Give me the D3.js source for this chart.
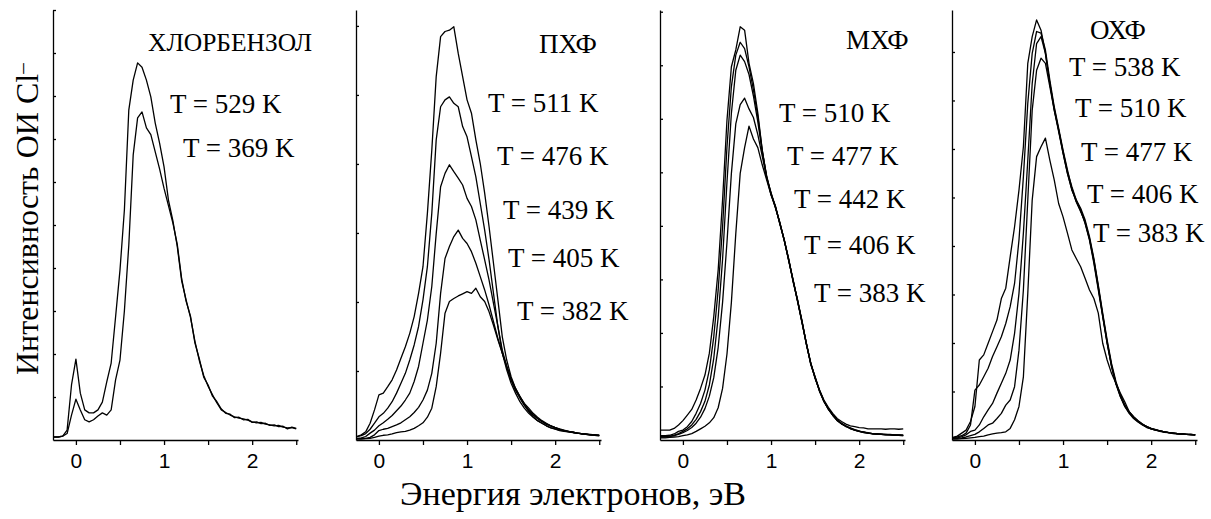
<!DOCTYPE html>
<html>
<head>
<meta charset="utf-8">
<script src="https://cdn.jsdelivr.net/npm/d3@7"></script>
<style>
body { margin: 0; background: #fff; }
</style>
</head>
<body>
<svg id="chart" width="1211" height="519"></svg>
<script>
// energy grid (eV) shared by every spectrum
const energyEv = [-0.25,-0.2,-0.15,-0.1,-0.05,0,0.05,0.1,0.15,0.2,0.25,0.3,0.35,0.4,0.45,0.5,0.55,0.6,0.65,0.7,0.75,0.8,0.85,0.9,0.95,1,1.05,1.1,1.15,1.2,1.25,1.3,1.35,1.4,1.45,1.5,1.55,1.6,1.65,1.7,1.75,1.8,1.85,1.9,1.95,2,2.05,2.1,2.15,2.2,2.25,2.3,2.35,2.4,2.45,2.5];

// intensities, arb. units (100 = top of the frame)
const chloro529 = [0.7,0.7,0.9,2.3,12.8, 18.8,10.9,7.0,6.3,6.3, 7.0,8.8,13.5,17.9,28.6, 39.5,53.5,76.7,83.7,87.7, 86.7,83.7,79.8,73.7,69.0, 63.5,55.8,51.0,45.0,37.0, 32.6,28.5,23.0,18.5,15.0, 12.5,10.5,8.6,7.0,6.4, 5.8,5.4,5.1,4.9,4.6, 4.2,4.0,4.1,3.7,3.5, 3.3,3.4,3.0,2.8,2.9, 2.6];
const chloro369 = [0.7,0.7,0.9,1.5,5.8, 9.5,7.0,4.7,4.2,4.7, 5.6,6.3,5.8,7.0,14.0, 18.6,30.0,45.3,66.3,74.9, 76.3,72.6,71.0,67.0,63.0, 58.5,54.5,50.5,45.5,37.5, 32.3,28.8,22.6,18.9,14.6, 12.8,10.2,8.9,7.2,6.2, 6.0,5.2,5.3,4.7,4.8, 4.1,4.2,3.8,3.9,3.4, 3.5,3.1,3.2,2.6,3.0, 2.7];

const pcp511 = [0.8,1.2,1.9,3.9,7.0, 10.5,10.9,12.4,14.0,16.3, 19.0,21.7,24.8,28.7,34.1, 40.3,52.7,67.4,84.5,93.8, 95.0,95.3,96.1,89.9,84.5, 79.1,76.0,69.8,64.3,57.4, 49.6,41.1,32.6,24.0,18.6, 14.7,12.0,10.1,8.1,6.6, 5.4,4.5,3.9,3.3,2.8, 2.5,2.2,2.0,1.9,1.7, 1.6,1.5,1.4,1.2,1.2, 1.1];
const pcp476 = [0.8,1.0,1.5,2.5,3.9, 5.4,6.2,7.4,8.9,10.9, 13.2,15.5,18.6,22.1,26.4, 32.6,40.3,52.7,69.8,77.5, 79.1,79.8,78.3,77.5,72.9, 70.5,65.9,61.2,55.0,48.8, 41.9,34.1,26.4,20.2,16.3, 13.2,10.9,8.9,7.4,6.2, 5.3,4.5,3.9,3.3,2.9, 2.6,2.3,2.1,1.9,1.8, 1.6,1.5,1.4,1.3,1.2, 1.1];
const pcp439 = [0.4,0.5,0.8,1.6,2.3, 3.3,4.0,4.8,5.7,6.8, 7.9,9.3,10.9,13.6,17.1, 22.5,27.9,35.7,48.0,58.9, 62.0,64.0,62.4,60.9,59.3, 56.2,54.3,51.2,46.5,41.9, 37.2,31.8,26.4,20.9,17.1, 14.0,11.6,9.7,8.1,6.8, 5.8,5.0,4.3,3.7,3.3, 2.9,2.5,2.2,2.0,1.8, 1.6,1.5,1.3,1.2,1.1, 1.0];
const pcp405 = [0.3,0.3,0.4,0.6,1.2, 2.2,2.5,2.7,3.1,3.5, 4.0,4.7,5.4,6.4,7.6, 9.3,11.6,15.5,22.5,34.1, 42.2,45.0,47.3,48.8,46.9, 45.7,43.8,41.1,38.0,34.9, 31.4,27.5,23.6,20.2,17.1, 14.3,12.0,10.1,8.4,7.0, 5.9,5.0,4.3,3.7,3.3, 2.9,2.5,2.2,2.0,1.8, 1.6,1.4,1.3,1.2,1.1, 1.0];
const pcp382 = [0.2,0.2,0.3,0.4,0.6, 0.9,1.1,1.2,1.4,1.7, 1.9,2.0,2.3,2.7,3.3, 4.0,5.3,7.4,12.4,20.2, 29.5,32.2,32.9,33.5,34.0, 34.5,34.1,35.3,33.3,32.2, 29.8,26.7,23.3,20.2,17.1, 14.0,11.6,10.1,8.5,7.4, 6.2,5.3,4.5,3.9,3.3, 2.9,2.6,2.3,2.0,1.8, 1.6,1.4,1.3,1.2,1.1, 1.0];

const mcp510 = [2.3,2.3,2.3,2.7,3.5, 4.5,5.8,7.1,9.3,12.0, 15.1,20.2,28.7,39.5,55.8, 74.4,86.8,90.7,96.1,95.3, 87.6,82.9,76.0,67.4,61.2, 57.4,54.3,50.4,46.5,41.9, 37.2,32.6,27.9,22.5,17.8, 14.7,11.6,9.3,7.6,6.2, 5.0,4.3,3.7,3.3,3.1, 2.9,2.8,2.6,2.6,2.6, 2.6,2.5,2.6,2.6,2.5, 2.6];
const mcp477 = [1.0,1.0,1.1,1.4,2.0, 2.3,3.1,4.3,6.2,8.5, 11.6,16.3,24.0,34.9,49.6, 68.2,82.2,89.5,92.5,91.0, 86.8,81.4,75.2,67.4,61.0, 57.0,54.0,50.5,46.5,42.0, 37.0,32.5,27.5,22.5,17.8, 14.5,11.4,9.0,7.2,5.8, 4.6,3.8,3.2,2.7,2.3, 2.0,1.8,1.6,1.5,1.4, 1.3,1.3,1.2,1.2,1.1, 1.1];
const mcp442 = [0.8,0.8,0.9,1.1,1.5, 2.0,2.6,3.5,4.8,6.6, 9.0,12.8,19.0,28.5,42.0, 60.0,76.0,86.0,89.5,88.0, 85.0,80.0,74.0,67.0,61.5, 57.2,54.2,50.3,46.4,41.8, 37.3,32.4,27.7,22.4,18.0, 14.4,11.5,9.1,7.3,5.9, 4.7,3.9,3.2,2.8,2.4, 2.1,1.8,1.7,1.5,1.4, 1.4,1.3,1.3,1.2,1.2, 1.1];
const mcp406 = [0.7,0.7,0.8,1.0,1.3, 1.7,2.2,2.9,3.9,5.3, 7.3,10.2,14.5,21.5,32.0, 46.0,62.0,73.5,78.0,79.5, 77.0,75.0,71.0,66.0,61.0, 57.5,54.0,50.6,46.3,42.2, 36.8,32.7,27.4,22.6,17.6, 14.6,11.3,9.0,7.1,5.8, 4.5,3.8,3.1,2.7,2.3, 2.0,1.9,1.6,1.5,1.4, 1.3,1.2,1.2,1.1,1.1, 1.0];
const mcp383 = [0.5,0.5,0.6,0.7,0.8, 1.0,1.2,1.5,2.0,2.6, 3.2,4.0,5.2,7.5,12.0, 20.0,32.0,48.0,62.0,68.0, 73.0,70.0,68.0,64.0,60.5, 57.0,54.4,50.2,46.6,41.7, 37.1,32.3,27.6,22.3,17.9, 14.3,11.6,8.9,7.3,5.7, 4.6,3.7,3.3,2.6,2.3, 2.0,1.7,1.6,1.4,1.4, 1.3,1.2,1.2,1.1,1.1, 1.0];

const ocp538 = [0.6,0.9,1.6,2.3,4.3, 7.8,18.6,19.8,22.5,25.2, 27.9,32.9,35.3,42.6,49.6, 58.1,68.2,87.6,93.8,97.7, 95.3,89.9,82.9,76.7,72.1, 66.7,62.0,58.1,55.8,53.5, 50.4,46.5,41.1,34.9,28.7, 22.5,17.1,13.2,10.5,8.1, 6.6,5.4,4.5,3.7,3.1, 2.6,2.3,2.1,1.9,1.7, 1.6,1.5,1.4,1.3,1.3, 1.2];
const ocp510 = [0.5,0.7,1.0,1.6,3.5, 11.6,12.8,14.7,16.7,19.4, 21.7,24.0,27.1,31.0,36.4, 46.5,61.2,78.3,89.9,95.0, 94.6,90.7,83.7,77.5,72.5, 67.4,62.8,58.5,55.4,53.1, 50.8,46.9,41.9,35.7,29.1, 22.9,17.4,13.2,10.1,7.8, 6.2,5.0,4.2,3.5,2.9, 2.6,2.3,2.0,1.8,1.7, 1.5,1.4,1.4,1.3,1.2, 1.2];
const ocp477 = [0.4,0.5,0.8,1.2,2.0, 2.3,3.5,5.4,7.0,8.5, 10.9,13.2,15.5,18.6,24.8, 34.1,48.1,65.1,82.9,92.2, 93.8,89.9,82.9,77.1,72.1, 67.1,62.4,58.9,55.8,53.9, 51.2,47.3,42.2,36.0,29.5, 23.3,17.8,13.6,10.5,8.1, 6.4,5.3,4.3,3.6,3.1, 2.7,2.4,2.1,1.9,1.7, 1.6,1.5,1.4,1.3,1.3, 1.2];
const ocp406 = [0.3,0.4,0.5,0.7,1.0, 1.3,1.9,2.7,3.5,3.9, 5.0,6.2,8.1,9.3,12.4, 20.9,34.9,55.8,76.7,86.0, 88.8,87.6,82.2,76.7,71.7, 66.7,62.0,58.3,55.4,53.3, 50.5,46.7,41.5,35.3,28.8, 22.6,17.2,13.0,10.1,7.9, 6.4,5.2,4.3,3.6,3.0, 2.6,2.3,2.1,1.9,1.7, 1.6,1.5,1.4,1.3,1.2, 1.2];
const ocp383 = [0.2,0.2,0.3,0.4,0.5, 0.6,0.8,0.9,1.2,1.4, 1.6,1.7,1.9,2.7,4.7, 7.8,14.7,34.1,55.8,65.9, 68.2,70.2,65.1,60.5,55.0, 51.9,48.1,44.2,42.2,40.3, 37.6,34.9,32.9,29.5,22.5, 18.6,15.5,13.2,10.9,8.9, 6.6,5.4,4.5,3.7,3.1, 2.7,2.4,2.1,1.9,1.7, 1.6,1.5,1.4,1.3,1.3, 1.2];

const panelNames = ["ХЛОРБЕНЗОЛ", "ПХФ", "МХФ", "ОХФ"];
const panelSeries = [
  [chloro529, chloro369],
  [pcp511, pcp476, pcp439, pcp405, pcp382],
  [mcp510, mcp477, mcp442, mcp406, mcp383],
  [ocp538, ocp510, ocp477, ocp406, ocp383]
];
const tempLabels = [
  ["T = 529 K", "T = 369 K"],
  ["T = 511 K", "T = 476 K", "T = 439 K", "T = 405 K", "T = 382 K"],
  ["T = 510 K", "T = 477 K", "T = 442 K", "T = 406 K", "T = 383 K"],
  ["T = 538 K", "T = 510 K", "T = 477 K", "T = 406 K", "T = 383 K"]
];
const xTicks = [0, 0.5, 1, 1.5, 2, 2.5];
const xTickLabels = ["0", "", "1", "", "2", ""];
const yTickSteps = [10, 16.05, 12.45, 11.28];

// layout
const serif = "Liberation Serif";
const sans = "Liberation Sans";
const frameTop = 10, frameBottom = 440, panelW = 245;
const panelLeft = [53, 356, 660, 952];
const namePos = [[148, 51], [539, 53], [846, 49], [1090, 39]];
const labelPos = [
  [[170, 113], [183, 157]],
  [[488, 112], [497, 165], [503, 219], [508, 267], [517, 320]],
  [[779, 122], [787, 165], [794, 208], [804, 254], [814, 302]],
  [[1069, 76], [1075, 117], [1081, 161], [1087, 203], [1093, 242]]
];

const svg = d3.select("#chart");

panelSeries.forEach(function(series, i){
    const left = panelLeft[i];
    const x = d3.scaleLinear().domain([-0.26, 2.52]).range([left, left + panelW]);
    const y = d3.scaleLinear().domain([0, 100]).range([frameBottom, frameTop]);
    const g = svg.append("g");

    const xAxis = d3.axisBottom(x)
	.tickValues(xTicks)
	.tickSize(5)
	.tickSizeOuter(0)
	.tickPadding(8)
	.tickFormat((d, k) => xTickLabels[k]);
    g.append("g")
	.attr("transform", `translate(0,${frameBottom})`)
	.call(xAxis)
	.call(a => a.selectAll("path, line").attr("stroke", "#000").attr("stroke-width", 1.3))
	.call(a => a.selectAll("text").style("font-family", sans).style("font-size", "21px").attr("fill", "#000"));

    const yAxis = d3.axisRight(y)
	.tickValues(d3.range(yTickSteps[i], 100.01, yTickSteps[i]))
	.tickSize(3)
	.tickSizeOuter(0)
	.tickFormat("");
    g.append("g")
	.attr("transform", `translate(${left},0)`)
	.call(yAxis)
	.call(a => a.selectAll("path, line").attr("stroke", "#000").attr("stroke-width", 1.3));

    const line = d3.line()
	.x((d, k) => x(energyEv[k]))
	.y(d => y(d));
    g.selectAll("path.spectrum").data(series)
	.enter()
	.append("path")
	.attr("class", "spectrum")
	.attr("d", line)
	.attr("fill", "none")
	.attr("stroke", "#000")
	.attr("stroke-width", 1.3)
	.attr("stroke-linejoin", "round");

    g.append("text")
	.attr("x", namePos[i][0])
	.attr("y", namePos[i][1])
	.style("font-family", serif)
	.style("font-size", (i == 0 ? 25.5 : 27) + "px")
	.text(panelNames[i]);

    g.selectAll("text.temp").data(tempLabels[i])
	.enter()
	.append("text")
	.attr("class", "temp")
	.attr("x", (d, k) => labelPos[i][k][0])
	.attr("y", (d, k) => labelPos[i][k][1])
	.style("font-family", serif)
	.style("font-size", "27px")
	.text(d => d);
});

// axis titles
const ylab = svg.append("text")
    .attr("transform", "translate(38,375) rotate(-90)")
    .style("font-family", serif)
    .style("font-size", "32px");
ylab.append("tspan").text("Интенсивность ОИ Cl");
ylab.append("tspan").attr("dy", "-0.42em").style("font-size", "21px").text("–");

svg.append("text")
    .attr("x", 573)
    .attr("y", 505)
    .attr("text-anchor", "middle")
    .style("font-family", serif)
    .style("font-size", "34px")
    .text("Энергия электронов, эВ");
</script>
</body>
</html>
